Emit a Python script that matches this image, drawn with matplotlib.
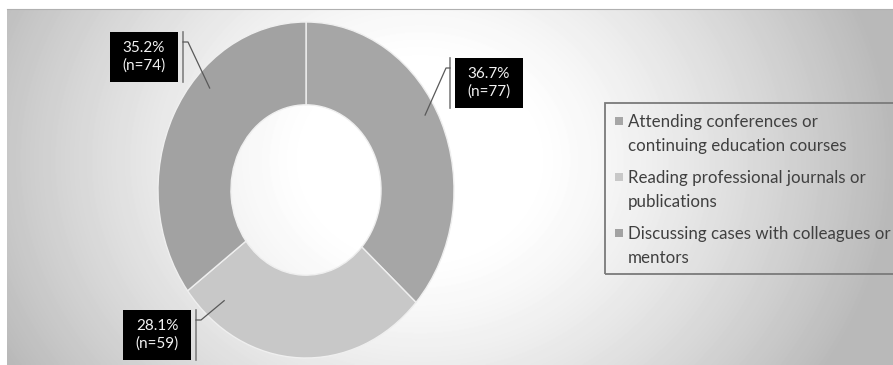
import numpy as np
import matplotlib.pyplot as plt
from matplotlib.patches import Rectangle
from matplotlib.lines import Line2D

# data
categories = ['Attending conferences or\ncontinuing education courses',
              'Reading professional journals or\npublications',
              'Discussing cases with colleagues or\nmentors']
counts = [77, 59, 74]
percents = [36.7, 28.1, 35.2]
colors = ['#a6a6a6', '#c8c8c8', '#a2a2a2']

W, H = 893, 365
FONT = 'Lato'

def fx(x):
    return x / W

def fy(y):
    return 1 - y / H

fig = plt.figure(figsize=(W / 100, H / 100), dpi=100)
fig.patch.set_facecolor('white')

# radial gradient background (chart area)
bg = fig.add_axes([fx(7), 0, fx(886), 1 - 9 / H])
yy, xx = np.mgrid[9:H, 7:W]
d = np.sqrt(((xx - 420) / 1.0) ** 2 + ((yy - 160) / 0.85) ** 2)
shade = 1 - 0.27 * np.clip((d - 110) / 360, 0, 1) ** 1.3
bg.imshow(shade, cmap='gray', vmin=0, vmax=1, aspect='auto',
          extent=[7, W, H, 9], interpolation='bilinear')
bg.axis('off')
fig.add_artist(Line2D([fx(7), 1], [fy(9), fy(9)], color='#b0b0b0', lw=0.8))

# donut (the source image is stretched vertically)
ax = fig.add_axes([fx(158), fy(358), 296 / W, 336 / H])
wedges, _ = ax.pie(counts, colors=colors, startangle=90, counterclock=False,
                   radius=1, wedgeprops=dict(width=0.493, edgecolor='#efefef', linewidth=1.0))
ax.set_aspect('auto')
ax.set_xlim(-1, 1)
ax.set_ylim(-1, 1)
ax.axis('off')

# data labels: box centre (px), side of the leader bar, leader anchor (deg, r)
label_layout = [
    ((489, 83), 'left', (29, 0.92)),
    ((157, 335), 'right', (-130, 0.86)),
    ((144, 57), 'right', (137, 0.89)),
]
bw, bh = 68, 50
for pct, n, (cen, side, (ang, r)) in zip(percents, counts, label_layout):
    cx, cy = cen
    fig.add_artist(Rectangle((fx(cx - bw / 2), fy(cy + bh / 2)), bw / W, bh / H,
                             transform=fig.transFigure, facecolor='black', edgecolor='none'))
    fig.text(fx(cx), fy(cy), f'{pct}%\n(n={n})', color='#f2f2f2', ha='center', va='center',
             fontsize=11, family=FONT, linespacing=1.35)
    bx = cx + bw / 2 + 5 if side == 'right' else cx - bw / 2 - 5
    fig.add_artist(Line2D([fx(bx), fx(bx)], [fy(cy - bh / 2), fy(cy + bh / 2)],
                          color='#808080', lw=1.2))
    ex = bx + 5 if side == 'right' else bx - 4
    ey = cy - bh / 2 + 10
    # anchor point on the ring in pixels
    a = np.deg2rad(ang)
    disp = ax.transData.transform((r * np.cos(a), r * np.sin(a)))
    axp, ayp = fig.transFigure.inverted().transform(disp)
    fig.add_artist(Line2D([fx(bx), fx(ex), axp], [fy(ey), fy(ey), ayp],
                          color='#595959', lw=0.9))

# legend drawn by hand so the markers sit on the first line
fig.add_artist(Rectangle((fx(605), fy(274)), 1.0, (274 - 103) / H,
                         transform=fig.transFigure, facecolor='none',
                         edgecolor='#7a7a7a', lw=1.3))
leg_y = [121, 177, 233]
for lab, col, y in zip(categories, colors, leg_y):
    fig.add_artist(Rectangle((fx(615), fy(y + 4)), 8 / W, 8 / H,
                             transform=fig.transFigure, facecolor=col, edgecolor='none'))
    fig.text(fx(628), fy(y + 13), lab, ha='left', va='center', fontsize=12.2,
             family=FONT, color='#404040', linespacing=1.65)

fig.savefig('out.png', dpi=100)
